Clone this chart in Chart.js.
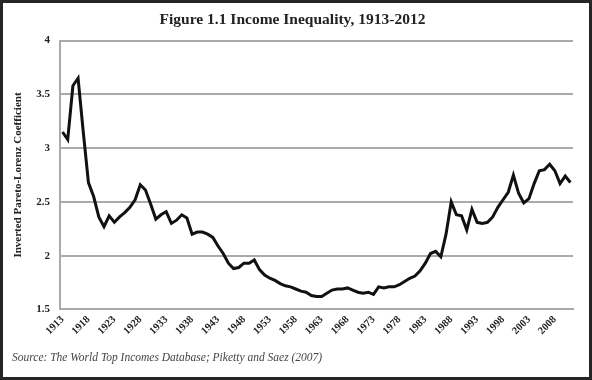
<!DOCTYPE html>
<html>
<head>
<meta charset="utf-8">
<script src="https://cdn.jsdelivr.net/npm/chart.js@4/dist/chart.umd.min.js"></script>
<style>
  html, body { margin: 0; padding: 0; background: #fff; }
  #wrap { width: 592px; height: 380px; position: relative; }
</style>
</head>
<body>
<div id="wrap"><canvas id="myChart"></canvas></div>
<script>
// inverted Pareto-Lorenz coefficient, one value per year from 1913
var firstYear = 1913
var coefValues = [
  3.15, 3.08, 3.58, 3.65, 3.15, 2.68, 2.55, 2.36, 2.27, 2.37,   // 1913-1922
  2.31, 2.36, 2.40, 2.45, 2.52, 2.66, 2.61, 2.48, 2.34, 2.38,   // 1923-1932
  2.41, 2.30, 2.33, 2.38, 2.35, 2.20, 2.22, 2.22, 2.20, 2.17,   // 1933-1942
  2.09, 2.02, 1.93, 1.88, 1.89, 1.93, 1.93, 1.96, 1.87, 1.82,   // 1943-1952
  1.79, 1.77, 1.74, 1.72, 1.71, 1.69, 1.67, 1.66, 1.63, 1.62,   // 1953-1962
  1.62, 1.65, 1.68, 1.69, 1.69, 1.70, 1.68, 1.66, 1.65, 1.66,   // 1963-1972
  1.64, 1.71, 1.70, 1.71, 1.71, 1.73, 1.76, 1.79, 1.81, 1.86,   // 1973-1982
  1.93, 2.02, 2.04, 1.99, 2.20, 2.50, 2.38, 2.37, 2.24, 2.43,   // 1983-1992
  2.31, 2.30, 2.31, 2.36, 2.45, 2.52, 2.59, 2.75, 2.58, 2.49,   // 1993-2002
  2.53, 2.67, 2.79, 2.80, 2.85, 2.79, 2.67, 2.74, 2.68          // 2003-2011
]
var years = coefValues.map(function(v, i){ return String(firstYear + i) })
var tickLabels = ['1913','1918','1923','1928','1933','1938','1943','1948','1953','1958',
                  '1963','1968','1973','1978','1983','1988','1993','1998','2003','2008']
var yTicks = [1.5, 2, 2.5, 3, 3.5, 4]
var yTickLabels = ['1.5', '2', '2.5', '3', '3.5', '4']

var serif = "'Liberation Serif', 'Times New Roman', serif"

var frame = {
  id: 'frame',
  afterDraw: function(c){
    var ctx = c.ctx
    ctx.save()
    ctx.strokeStyle = '#262626'
    ctx.lineWidth = 3
    ctx.strokeRect(1.5, 1.5, c.width - 3, c.height - 3)
    ctx.restore()
  }
}

var chart = new Chart('myChart', {
  type: 'line',
  data: {
    labels: years,
    datasets: [{
      data: coefValues,
      borderColor: '#111',
      backgroundColor: 'transparent',
      borderWidth: 3,
      pointRadius: 0,
      tension: 0
    }]
  },
  options: {
    responsive: true,
    maintainAspectRatio: false,
    animation: false,
    layout: { padding: { left: 12, right: 19, top: 6, bottom: 8 } },
    plugins: {
      legend: { display: false },
      tooltip: { enabled: false },
      title: {
        display: true,
        text: 'Figure 1.1 Income Inequality, 1913-2012',
        color: '#222',
        font: { family: serif, size: 15.5, weight: 'bold' },
        padding: { top: 5, bottom: 11 }
      },
      subtitle: {
        display: true,
        position: 'bottom',
        align: 'start',
        text: 'Source: The World Top Incomes Database; Piketty and Saez (2007)',
        color: '#444',
        font: { family: serif, size: 11.5, style: 'italic' },
        padding: { top: 10, bottom: 7 }
      }
    },
    scales: {
      x: {
        offset: true,
        grid: { display: false, drawTicks: false },
        border: { display: true, color: '#aaaaaa', width: 2 },
        ticks: {
          autoSkip: false,
          maxRotation: 45,
          minRotation: 45,
          padding: 4,
          color: '#222',
          font: { family: serif, size: 10.5, weight: 'bold' },
          callback: function(val, idx){
            var y = years[idx]
            return tickLabels.indexOf(y) >= 0 ? y : ''
          }
        }
      },
      y: {
        min: 1.5,
        max: 4,
        afterBuildTicks: function(axis){
          axis.ticks = yTicks.map(function(v){ return { value: v } })
        },
        grid: { color: '#aaaaaa', lineWidth: 2, drawTicks: false },
        border: { display: true, color: '#aaaaaa', width: 2 },
        ticks: {
          padding: 10,
          color: '#222',
          font: { family: serif, size: 11, weight: 'bold' },
          callback: function(val){
            return yTickLabels[yTicks.indexOf(val)]
          }
        },
        title: {
          display: true,
          text: 'Inverted Pareto-Lorenz Coefficient',
          color: '#222',
          font: { family: serif, size: 11, weight: 'bold' },
          padding: { top: 0, bottom: 1 }
        }
      }
    }
  },
  plugins: [frame]
})
</script>
</body>
</html>
